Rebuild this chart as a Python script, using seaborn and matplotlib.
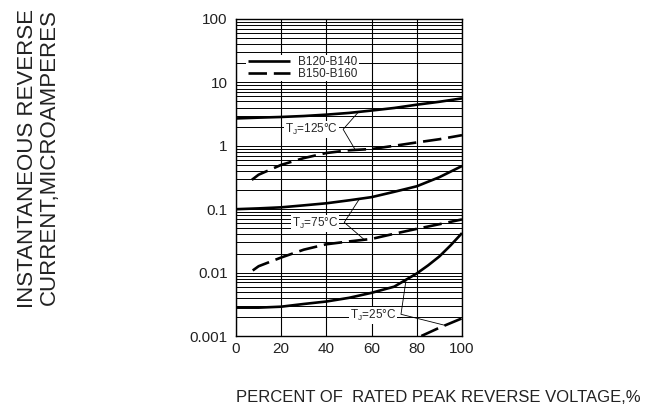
import matplotlib
matplotlib.use("Agg")
import matplotlib.pyplot as plt
import matplotlib.ticker as mticker
import seaborn as sns
import numpy as np

# ---- data ----
x_s125 = [0, 10, 20, 30, 40, 50, 60, 70, 80, 90, 100]
y_s125 = [2.7, 2.78, 2.85, 2.95, 3.1, 3.3, 3.6, 3.95, 4.45, 4.95, 5.6]

x_d125 = [7, 10, 20, 30, 40, 50, 60, 70, 80, 90, 100]
y_d125 = [0.29, 0.35, 0.50, 0.64, 0.77, 0.85, 0.89, 1.0, 1.13, 1.27, 1.47]

x_s75 = [0, 10, 20, 30, 40, 50, 60, 70, 80, 90, 100]
y_s75 = [0.10, 0.103, 0.107, 0.115, 0.124, 0.138, 0.155, 0.188, 0.23, 0.32, 0.48]

x_d75 = [7.4, 10, 20, 30, 40, 50, 60, 70, 80, 90, 100]
y_d75 = [0.0108, 0.0126, 0.0173, 0.023, 0.028, 0.031, 0.034, 0.041, 0.049, 0.058, 0.069]

x_s25 = [0, 10, 20, 30, 40, 50, 60, 70, 80, 85, 90, 95, 100]
y_s25 = [0.0028, 0.0028, 0.0029, 0.0032, 0.0035, 0.004, 0.0048, 0.006, 0.0097, 0.013, 0.018, 0.027, 0.042]

x_d25 = [82, 90, 100]
y_d25 = [0.001, 0.00135, 0.0019]

legend_labels = ["B120-B140", "B150-B160"]
x_ticks = [0, 20, 40, 60, 80, 100]
y_ticks = [0.001, 0.01, 0.1, 1, 10, 100]
y_ticklabels = ["0.001", "0.01", "0.1", "1", "10", "100"]

sns.set_theme(style="white")
plt.rcParams['font.family'] = ['Liberation Sans', 'DejaVu Sans']

fig = plt.figure(figsize=(6.59, 4.16), dpi=100)
ax = fig.add_axes([236/659, 1-336/416, 226/659, 317/416])

lw = 1.9
dash = (7, 2.6)
sns.lineplot(x=x_s125, y=y_s125, ax=ax, color="black", lw=lw, label=legend_labels[0])
sns.lineplot(x=x_d125, y=y_d125, ax=ax, color="black", lw=lw, label=legend_labels[1])
sns.lineplot(x=x_s75, y=y_s75, ax=ax, color="black", lw=lw)
sns.lineplot(x=x_d75, y=y_d75, ax=ax, color="black", lw=lw)
sns.lineplot(x=x_s25, y=y_s25, ax=ax, color="black", lw=lw)
sns.lineplot(x=x_d25, y=y_d25, ax=ax, color="black", lw=lw)
# dashed styling for B150-B160 curves
lines = ax.get_lines()
for i in (1, 3, 5):
    lines[i].set_dashes(dash)
for l in lines:
    l.set_solid_capstyle("butt")
    l.set_dash_capstyle("butt")
    l.set_zorder(3)

ax.set_yscale("log")
ax.set_xlim(0, 100)
ax.set_ylim(0.001, 100)
ax.set_xticks(x_ticks)
ax.set_xticklabels([str(t) for t in x_ticks])
ax.set_yticks(y_ticks)
ax.set_yticklabels(y_ticklabels)
ax.yaxis.set_minor_locator(mticker.LogLocator(base=10, subs=np.arange(2, 10)))
ax.yaxis.set_minor_formatter(mticker.NullFormatter())
ax.tick_params(axis="both", which="both", length=0, labelsize=11, colors="#222222")
ax.tick_params(axis="y", pad=6)
ax.tick_params(axis="x", pad=4)
ax.grid(True, which="both", axis="y", color="black", lw=0.7)
ax.grid(True, which="major", axis="x", color="black", lw=0.8)
for s in ax.spines.values():
    s.set_color("black")
    s.set_linewidth(1.0)

# legend
leg = ax.legend(loc="upper left", bbox_to_anchor=(0.02, 0.905), frameon=True,
                fontsize=8.5, handlelength=3.6, handletextpad=0.7,
                borderpad=0.1, labelspacing=0.0, fancybox=False)
leg.get_frame().set_facecolor("white")
leg.get_frame().set_edgecolor("none")
leg.get_frame().set_alpha(1)

# annotations
bbox = dict(facecolor="white", edgecolor="none", pad=0.6)
ax.text(45.1, 1.8, r"T$_\mathregular{J}$=125°C", ha="right", va="center", fontsize=8.5, bbox=bbox, zorder=4)
ax.plot([54.3, 47.4, 52.8], [3.45, 1.82, 0.86], color="black", lw=0.6, zorder=4)

ax.text(45.1, 0.06, r"T$_\mathregular{J}$=75°C", ha="right", va="center", fontsize=8.5, bbox=bbox, zorder=4)
ax.plot([54.6, 47.9, 56.8], [0.145, 0.062, 0.033], color="black", lw=0.6, zorder=4)

ax.text(70.8, 0.00211, r"T$_\mathregular{J}$=25°C", ha="right", va="center", fontsize=8.5, bbox=bbox, zorder=4)
ax.plot([75.2, 73.0, 92.9], [0.0075, 0.0022, 0.00146], color="black", lw=0.6, zorder=4)

# axis labels
ax.set_ylabel("INSTANTANEOUS REVERSE\nCURRENT,MICROAMPERES", fontsize=16,
              linespacing=1.05, multialignment="right", color="#222222")
ax.yaxis.set_label_coords((38-236)/226, (336-159)/317)
ax.yaxis.label.set_va("center")
ax.set_xlabel("PERCENT OF  RATED PEAK REVERSE VOLTAGE,%", fontsize=12.0,
              color="#222222")
ax.xaxis.set_label_coords((438-236)/226, (336-398)/317)
ax.xaxis.label.set_va("center")

fig.savefig("out.png", dpi=100, facecolor="white")
